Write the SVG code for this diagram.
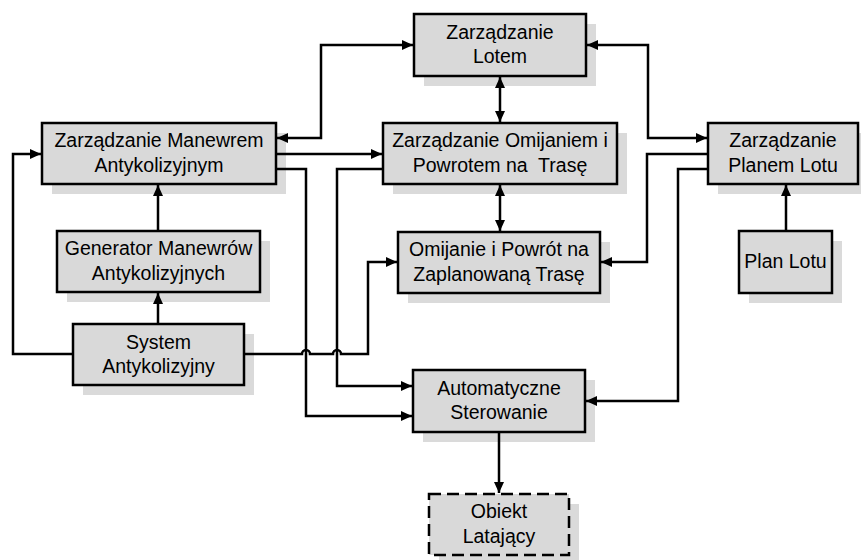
<svg xmlns="http://www.w3.org/2000/svg" width="861" height="560" viewBox="0 0 861 560">
<defs>
<style>
.sh{fill:#dadada;stroke:none}
.bx{fill:#d9d9d9;stroke:#000;stroke-width:2.5}
.ds{stroke-dasharray:12 6}
.t{font-family:"Liberation Sans",Arial,sans-serif;font-size:19.5px;fill:#000;text-anchor:middle}
.c{fill:none;stroke:#000;stroke-width:2.5}
.a{marker-end:url(#ah)}
.b{marker-start:url(#as);marker-end:url(#ah)}
</style>
<marker id="ah" markerUnits="userSpaceOnUse" viewBox="0 0 12 10" markerWidth="12" markerHeight="10" refX="11" refY="5" orient="auto" overflow="visible">
<path d="M0,0 L11,5 L0,10 z" fill="#000"/>
</marker>
<marker id="as" markerUnits="userSpaceOnUse" viewBox="0 0 12 10" markerWidth="12" markerHeight="10" refX="1" refY="5" orient="auto" overflow="visible">
<path d="M12,0 L1,5 L12,10 z" fill="#000"/>
</marker>
</defs>
<rect width="861" height="560" fill="#fff"/>
<g id="zarzadzanie-lotem">
<rect class="sh" x="424" y="24" width="172" height="62"/>
<rect class="bx" x="414" y="14" width="172" height="62"/>
<text class="t" x="500" y="39">Zarządzanie</text>
<text class="t" x="500" y="63">Lotem</text>
</g>
<g id="zarzadzanie-manewrem">
<rect class="sh" x="52" y="133" width="234" height="61"/>
<rect class="bx" x="42" y="123" width="234" height="61"/>
<text class="t" x="159" y="147">Zarządzanie Manewrem</text>
<text class="t" x="159" y="172">Antykolizyjnym</text>
</g>
<g id="zarzadzanie-omijaniem">
<rect class="sh" x="393" y="133" width="234" height="61"/>
<rect class="bx" x="383" y="123" width="234" height="61"/>
<text class="t" x="500" y="147">Zarządzanie Omijaniem i</text>
<text class="t" x="500" y="172" xml:space="preserve">Powrotem na  Trasę</text>
</g>
<g id="omijanie-powrot">
<rect class="sh" x="408" y="242" width="202" height="61"/>
<rect class="bx" x="398" y="232" width="202" height="61"/>
<text class="t" x="499" y="256">Omijanie i Powrót na</text>
<text class="t" x="499" y="281">Zaplanowaną Trasę</text>
</g>
<g id="zarzadzanie-planem">
<rect class="sh" x="718" y="133" width="150" height="61"/>
<rect class="bx" x="708" y="123" width="150" height="61"/>
<text class="t" x="783" y="147">Zarządzanie</text>
<text class="t" x="783" y="172">Planem Lotu</text>
</g>
<g id="plan-lotu">
<rect class="sh" x="749" y="241" width="93" height="62"/>
<rect class="bx" x="739" y="231" width="93" height="62"/>
<text class="t" x="785.5" y="268">Plan Lotu</text>
</g>
<g id="generator">
<rect class="sh" x="67" y="241" width="203" height="61"/>
<rect class="bx" x="57" y="231" width="203" height="61"/>
<text class="t" x="158.5" y="255">Generator Manewrów</text>
<text class="t" x="158.5" y="280">Antykolizyjnych</text>
</g>
<g id="system-antykolizyjny">
<rect class="sh" x="83" y="334" width="171" height="61"/>
<rect class="bx" x="73" y="324" width="171" height="61"/>
<text class="t" x="158.5" y="349">System</text>
<text class="t" x="158.5" y="373">Antykolizyjny</text>
</g>
<g id="automatyczne-sterowanie">
<rect class="sh" x="423" y="380" width="172" height="62"/>
<rect class="bx" x="413" y="370" width="172" height="62"/>
<text class="t" x="499" y="395">Automatyczne</text>
<text class="t" x="499" y="419">Sterowanie</text>
</g>
<g id="obiekt-latajacy">
<rect class="sh" x="439" y="504" width="140" height="61"/>
<rect class="bx ds" x="429" y="494" width="140" height="61"/>
<text class="t" x="499" y="518">Obiekt</text>
<text class="t" x="499" y="543">Latający</text>
</g>
<g id="connectors">
<path class="c b" d="M277,138 H321 V45 H413"/>
<path class="c b" d="M500,77 V122"/>
<path class="c b" d="M587,45 H648 V138 H707"/>
<path class="c a" d="M277,154 H382"/>
<path class="c a" d="M382,169 H337 V386 H412"/>
<path class="c a" d="M277,169 H306 V416 H412"/>
<path class="c b" d="M500,185 V231"/>
<path class="c a" d="M707,154 H647 V262 H601"/>
<path class="c a" d="M707,169 H678 V401 H586"/>
<path class="c a" d="M786,230 V185"/>
<path class="c a" d="M158,230 V185"/>
<path class="c a" d="M158,323 V293"/>
<path class="c a" d="M72,354 H13 V154 H41"/>
<path class="c a" d="M245,354 H302 A4,4 0 0 1 310,354 H333 A4,4 0 0 1 341,354 H368 V262 H397"/>
<path class="c a" d="M499,433 V493"/>
</g>
</svg>
